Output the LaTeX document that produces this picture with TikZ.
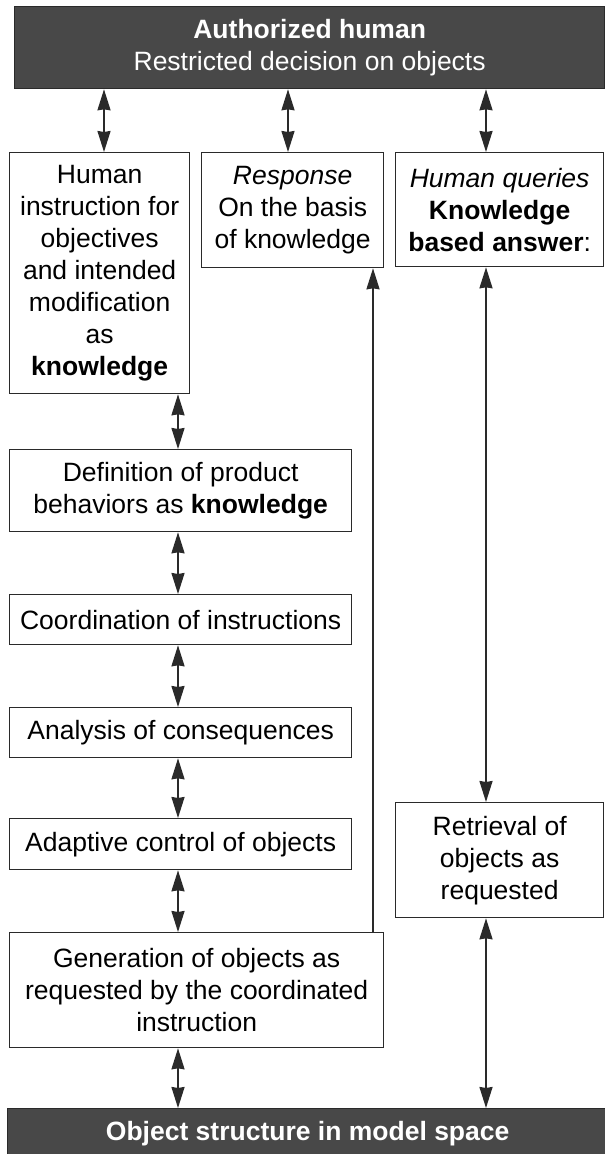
\documentclass[tikz,border=0pt]{standalone}
\usepackage{fontspec}
\setmainfont{Liberation Sans}
\usetikzlibrary{arrows.meta}
\definecolor{darkfill}{HTML}{484848}
\definecolor{edge}{HTML}{2A2A2A}
\tikzset{
  box/.style={draw=edge, line width=1.3pt, fill=white, align=center, inner sep=0pt,
    anchor=north west, font=\fontsize{26.5}{32}\selectfont},
  darkbox/.style={draw=edge, line width=1.3pt, fill=darkfill, text=white, align=center,
    inner sep=0pt, anchor=north west, font=\fontsize{26.5}{32}\selectfont},
  tip/.tip={Stealth[length=21pt,width=13pt,inset=1pt]},
  link/.style={draw=edge, line width=1.8pt, tip-tip},
  uplink/.style={draw=edge, line width=1.8pt, -tip},
}
\begin{document}
\begin{tikzpicture}[x=1pt,y=-1pt]
\useasboundingbox[fill=white] (0,0) rectangle (605,1154);

% top and bottom bars
\node[darkbox, minimum width=590pt, minimum height=82pt] (top) at (14,6)
  {\textbf{Authorized human}\\Restricted decision on objects};
\node[darkbox, minimum width=600pt, minimum height=50pt] (obj) at (7,1108)
  {\textbf{Object structure in model space}};

% first row
\node[box, minimum width=180pt, minimum height=241pt] (hum) at (9,152)
  {Human\\instruction for\\objectives\\and intended\\modification\\as\\\textbf{knowledge}};
\node[box, minimum width=182pt, minimum height=115pt] (resp) at (201,152)
  {\textit{Response}\\On the basis\\of knowledge};
\node[box, minimum width=208pt, minimum height=114pt] (query) at (395,152)
  {\textit{Human queries}\\\textbf{Knowledge}\\\textbf{based answer}:};

% left column
\node[box, minimum width=342pt, minimum height=82pt] (defn) at (9,449)
  {Definition of product\\behaviors as \textbf{knowledge}};
\node[box, minimum width=342pt, minimum height=50pt] (coord) at (9,594)
  {Coordination of instructions};
\node[box, minimum width=342pt, minimum height=50pt] (anal) at (9,707)
  {Analysis of consequences};
\node[box, minimum width=342pt, minimum height=51pt] (adapt) at (9,818)
  {Adaptive control of objects};
\node[box, minimum width=374pt, minimum height=115pt] (gen) at (9,932)
  {Generation of objects as\\requested by the coordinated\\instruction};

% right column
\node[box, minimum width=208pt, minimum height=115pt] (retr) at (395,802)
  {Retrieval of\\objects as\\requested};

% connector columns
\coordinate (c1) at (104,0);
\coordinate (c2) at (288,0);
\coordinate (c3) at (486,0);
\coordinate (cl) at (178,0);
\coordinate (cr) at (373,0);

\draw[link] (top.south -| c1) -- (hum.north -| c1);
\draw[link] (top.south -| c2) -- (resp.north -| c2);
\draw[link] (top.south -| c3) -- (query.north -| c3);

\draw[link] (hum.south -| cl) -- (defn.north -| cl);
\draw[link] (defn.south -| cl) -- (coord.north -| cl);
\draw[link] (coord.south -| cl) -- (anal.north -| cl);
\draw[link] (anal.south -| cl) -- (adapt.north -| cl);
\draw[link] (adapt.south -| cl) -- (gen.north -| cl);
\draw[link] (gen.south -| cl) -- (obj.north -| cl);

\draw[uplink] (gen.north -| cr) -- (resp.south -| cr);

\draw[link] (query.south -| c3) -- (retr.north -| c3);
\draw[link] (retr.south -| c3) -- (obj.north -| c3);
\end{tikzpicture}
\end{document}
